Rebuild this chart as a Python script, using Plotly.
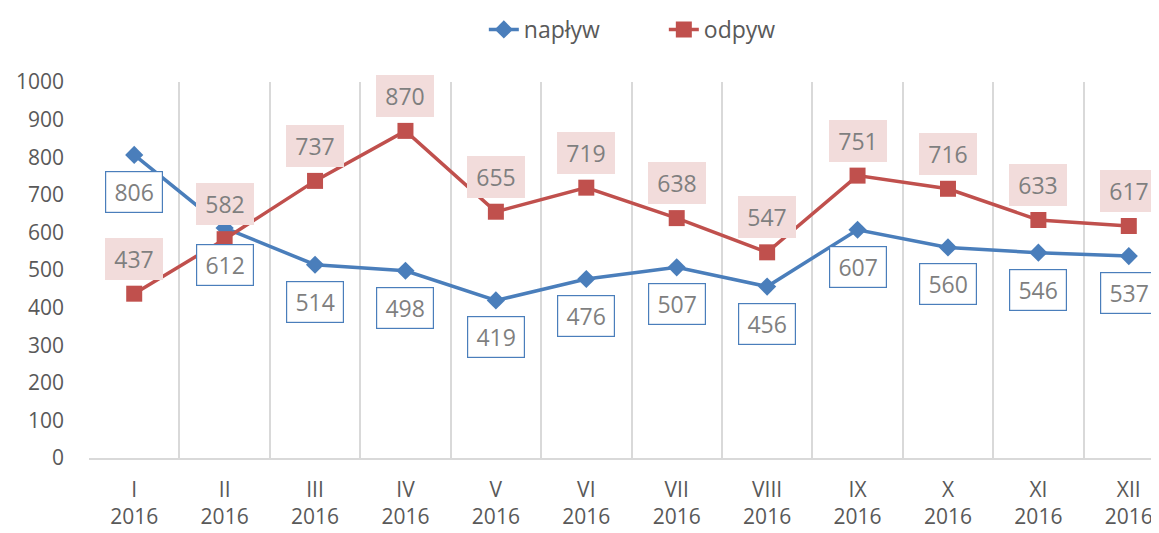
import plotly.graph_objects as go

# Miesiące 2016
miesiace = ["I", "II", "III", "IV", "V", "VI", "VII", "VIII", "IX", "X", "XI", "XII"]
rok = "2016"
naplyw = [806, 612, 514, 498, 419, 476, 507, 456, 607, 560, 546, 537]
odpyw = [437, 582, 737, 870, 655, 719, 638, 547, 751, 716, 633, 617]

NIEBIESKI = "#4a7ebb"
CZERWONY = "#c0504d"
SZARY = "#595959"
FONT = "Open Sans"

kategorie = [f"{m}<br>{rok}" for m in miesiace]

fig = go.Figure()
fig.add_trace(go.Scatter(
    x=kategorie, y=naplyw, name="napływ", mode="lines+markers",
    line=dict(color=NIEBIESKI, width=3.5),
    marker=dict(symbol="diamond", size=14, color=NIEBIESKI),
))
fig.add_trace(go.Scatter(
    x=kategorie, y=odpyw, name="odpyw", mode="lines+markers",
    line=dict(color=CZERWONY, width=3.5),
    marker=dict(symbol="square", size=16, color=CZERWONY),
))

# etykiety danych: napływ pod punktem (ramka), odpyw nad punktem (różowe tło)
for k, v in zip(kategorie, naplyw):
    fig.add_annotation(
        x=k, y=v, text=str(v), showarrow=False, yshift=-37,
        font=dict(family=FONT, size=23, color="#7f7f7f"),
        bgcolor="white", bordercolor=NIEBIESKI, borderwidth=1.2,
        width=54, height=38, borderpad=1,
    )
for k, v in zip(kategorie, odpyw):
    fig.add_annotation(
        x=k, y=v, text=str(v), showarrow=False, yshift=35,
        font=dict(family=FONT, size=23, color="#7f7f7f"),
        bgcolor="#f2dcdb", borderwidth=0,
        width=56, height=40, borderpad=1,
    )

# strona ma 8 px marginesu body, więc figura jest o tyle mniejsza
fig.update_layout(
    width=1151, height=525,
    margin=dict(l=81, r=0, t=72, b=75),
    plot_bgcolor="white", paper_bgcolor="white",
    font=dict(family=FONT, color=SZARY),
    showlegend=True,
    legend=dict(
        orientation="h", x=0.369, xanchor="left", y=1.14, yanchor="middle",
        font=dict(size=23, color=SZARY),
        entrywidth=135, entrywidthmode="pixels",
    ),
    hovermode=False,
)
fig.update_xaxes(
    type="category", range=[-0.5, 11.334], automargin=False,
    tickson="boundaries", showgrid=True, gridcolor="#d9d9d9", gridwidth=1.5,
    showline=True, linecolor="#d9d9d9", linewidth=1.5,
    ticks="", tickfont=dict(size=21, color=SZARY), ticklabelstandoff=12,
)
fig.update_yaxes(
    range=[0, 1000], dtick=100, showgrid=False, zeroline=False, automargin=False,
    ticks="", tickfont=dict(size=21, color=SZARY), ticklabelstandoff=24,
)

fig.write_html("out.html")
